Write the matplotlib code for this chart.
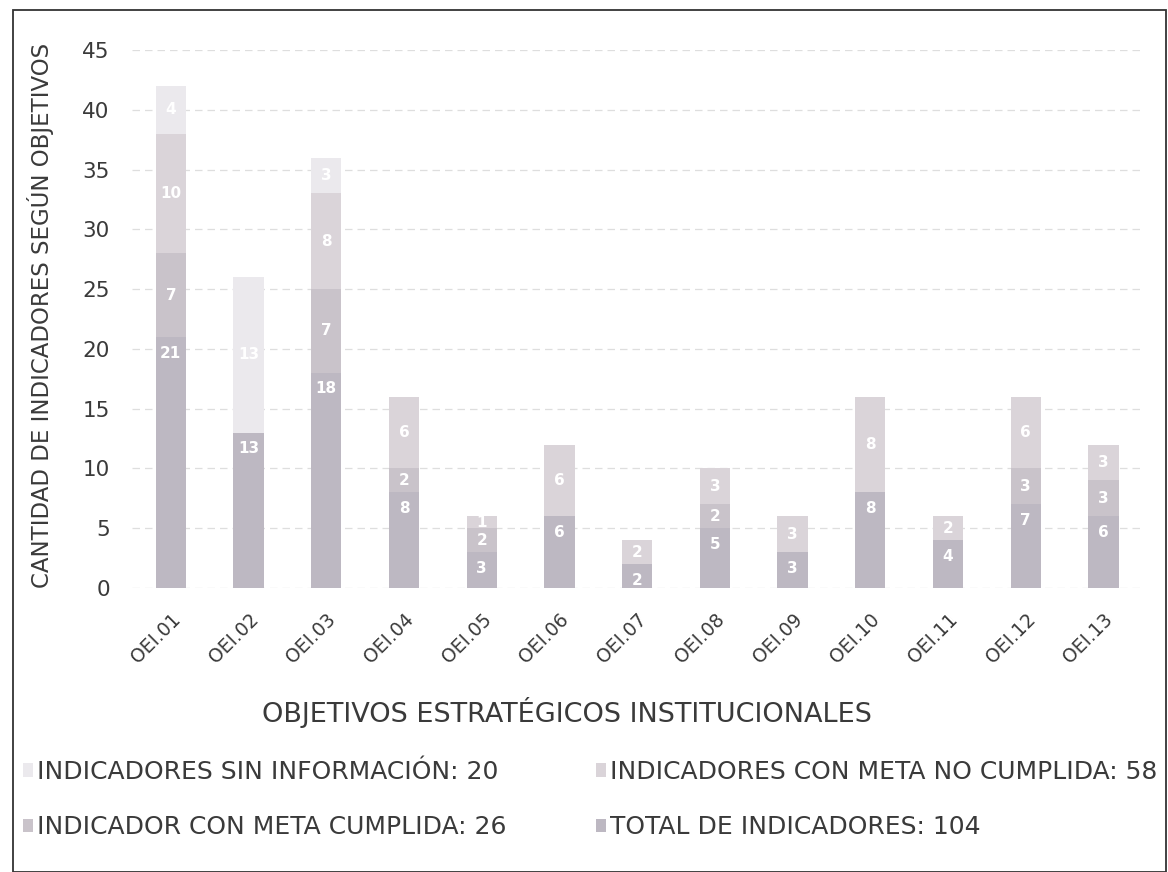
import matplotlib
matplotlib.use("Agg")
import matplotlib.pyplot as plt
import matplotlib.patches as patches
import numpy as np

plt.rcParams['font.family'] = ['DejaVu Sans']

objetivos = ['OEI.01', 'OEI.02', 'OEI.03', 'OEI.04', 'OEI.05', 'OEI.06', 'OEI.07',
             'OEI.08', 'OEI.09', 'OEI.10', 'OEI.11', 'OEI.12', 'OEI.13']
total = [21, 13, 18, 8, 3, 6, 2, 5, 3, 8, 4, 7, 6]
cumplida = [7, 0, 7, 2, 2, 0, 0, 2, 0, 0, 0, 3, 3]
no_cumplida = [10, 0, 8, 6, 1, 6, 2, 3, 3, 8, 2, 6, 3]
sin_info = [4, 13, 3, 0, 0, 0, 0, 0, 0, 0, 0, 0, 0]

lbl_sin = 'INDICADORES SIN INFORMACIÓN: 20'
lbl_no = 'INDICADORES CON META NO CUMPLIDA: 58'
lbl_cum = 'INDICADOR CON META CUMPLIDA: 26'
lbl_tot = 'TOTAL DE INDICADORES: 104'

c_tot = '#bdb8c2'
c_cum = '#c9c3ca'
c_no = '#dad4d9'
c_sin = '#ebe9ed'
txt = '#3a3a3a'

fig = plt.figure(figsize=(11.68, 8.72), dpi=100)
ax = fig.add_axes([0.113, 0.3257, 0.865, 0.617])

x = np.arange(len(objetivos))
w = 0.39
b1 = np.array(total)
b2 = b1 + np.array(cumplida)
b3 = b2 + np.array(no_cumplida)

r_tot = ax.bar(x, total, w, color=c_tot, label=lbl_tot, zorder=2)
r_cum = ax.bar(x, cumplida, w, bottom=b1, color=c_cum, label=lbl_cum, zorder=2)
r_no = ax.bar(x, no_cumplida, w, bottom=b2, color=c_no, label=lbl_no, zorder=2)
r_sin = ax.bar(x, sin_info, w, bottom=b3, color=c_sin, label=lbl_sin, zorder=2)

# etiquetas de datos
ax.bar_label(r_tot, labels=[str(v) if v else '' for v in total], label_type='edge',
             padding=-17, color='white', fontsize=11, fontweight='bold')
for cont, vals in [(r_cum, cumplida), (r_no, no_cumplida), (r_sin, sin_info)]:
    ax.bar_label(cont, labels=[str(v) if v else '' for v in vals], label_type='center',
                 color='white', fontsize=11, fontweight='bold')

ax.set_xlim(-0.5, len(objetivos) - 0.5)
ax.set_ylim(0, 45)
ax.set_yticks(np.arange(0, 46, 5))
ax.yaxis.grid(True, color='#dedede', linestyle=(0, (6, 4)), linewidth=0.9, zorder=0)
for s in ax.spines.values():
    s.set_visible(False)
ax.tick_params(axis='y', length=0, labelsize=15.5, labelcolor=txt, pad=16)
ax.set_xticks(x)
ax.set_xticklabels(objetivos, rotation=45, ha='right', rotation_mode='anchor')
ax.tick_params(axis='x', length=0, labelsize=13.5, labelcolor=txt, pad=16)

fig.text(41 / 1168, 1 - 315 / 872, 'CANTIDAD DE INDICADORES SEGÚN OBJETIVOS', rotation=90,
         ha='center', va='center', fontsize=16.5, color=txt)
fig.text(567 / 1168, 1 - 712 / 872, 'OBJETIVOS ESTRATÉGICOS INSTITUCIONALES', ha='center',
         va='center', fontsize=19.5, color=txt)

fig.legend([r_sin, r_cum, r_no, r_tot], [lbl_sin, lbl_cum, lbl_no, lbl_tot], ncol=2,
           loc='upper left', bbox_to_anchor=(0.011, 0.140), frameon=False, fontsize=18,
           labelcolor=txt, handlelength=0.4, handleheight=0.45, handletextpad=0.15,
           columnspacing=3.6, labelspacing=1.25, borderaxespad=0)

fig.add_artist(patches.Rectangle((0.011, 0.0), 0.987, 0.988, transform=fig.transFigure,
                                 fill=False, edgecolor='#333333', linewidth=1.3))

fig.savefig('out.png', dpi=100)
